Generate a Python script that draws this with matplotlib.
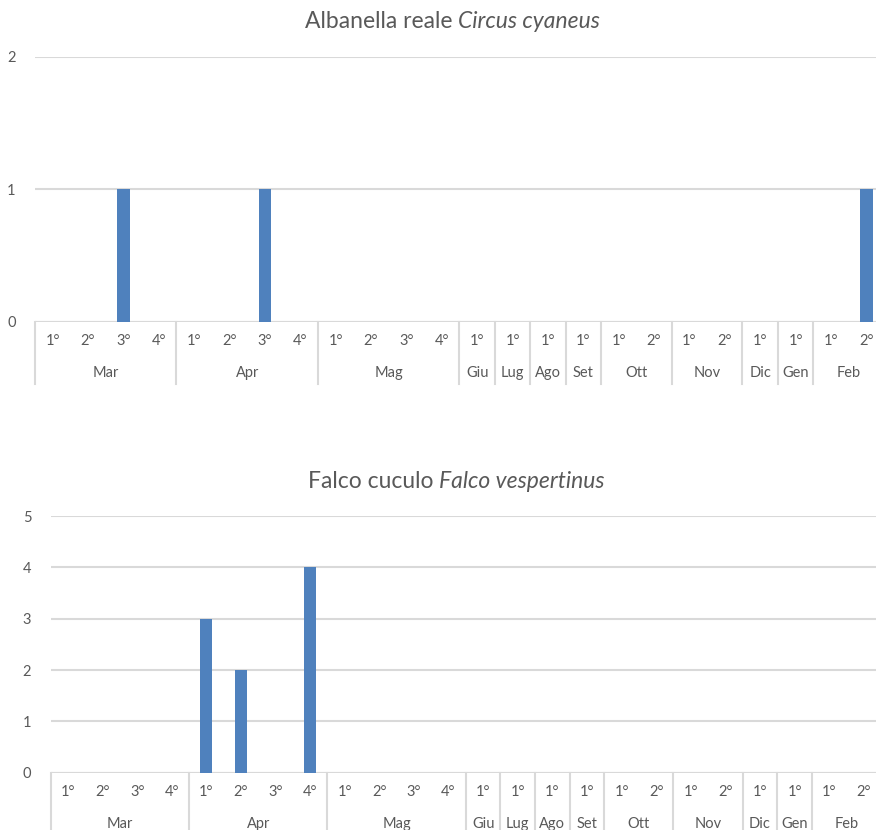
import numpy as np
import matplotlib.pyplot as plt
from matplotlib import transforms

plt.rcParams['font.family'] = ['Lato', 'DejaVu Sans']

# categorie: decadi per mese
mesi = ['Mar', 'Apr', 'Mag', 'Giu', 'Lug', 'Ago', 'Set', 'Ott', 'Nov', 'Dic', 'Gen', 'Feb']
n_decadi = [4, 4, 4, 1, 1, 1, 1, 2, 2, 1, 1, 2]
decadi = ['%d°' % (i + 1) for n in n_decadi for i in range(n)]

circus_cyaneus = [0, 0, 1, 0, 0, 0, 1, 0, 0, 0, 0, 0,
                  0, 0, 0, 0, 0, 0, 0, 0, 0, 0, 0, 1]
falco_vespertinus = [0, 0, 0, 0, 3, 2, 0, 4, 0, 0, 0, 0,
                     0, 0, 0, 0, 0, 0, 0, 0, 0, 0, 0, 0]

W, H = 876, 830
blu = '#4f81bd'
grigio = '#d9d9d9'
testo = '#595959'

fig = plt.figure(figsize=(W / 100, H / 100), dpi=100)


def pannello(left, right, top, bottom, valori, ymax, titolo_n, titolo_i, split, ytit):
    ax = fig.add_axes([left / W, 1 - bottom / H, (right - left) / W, (bottom - top) / H])
    x = np.arange(len(valori))
    ax.bar(x, valori, width=0.35, color=blu, zorder=3)
    ax.set_xlim(-0.5, len(valori) - 0.5)
    ax.set_ylim(0, ymax)
    ax.set_yticks(range(ymax + 1))
    ax.yaxis.grid(True, color=grigio, lw=1.5, zorder=0)
    ax.set_xticks([])
    for s in ax.spines.values():
        s.set_visible(False)
    ax.tick_params(axis='y', length=0, pad=14, labelsize=10.5, labelcolor=testo)
    ax.axhline(0, color=grigio, lw=1.5, zorder=2)

    hpx = bottom - top
    tr = transforms.blended_transform_factory(ax.transData, ax.transAxes)
    for xi, lab in zip(x, decadi):
        ax.text(xi, -19 / hpx, lab, transform=tr, ha='center', va='center',
                fontsize=10.5, color=testo)
    pos = 0
    bordi = [-0.5]
    for m, n in zip(mesi, n_decadi):
        ax.text(pos + (n - 1) / 2, -51 / hpx, m, transform=tr, ha='center',
                va='center', fontsize=10.5, color=testo)
        pos += n
        bordi.append(pos - 0.5)
    for b in bordi:
        ax.plot([b, b], [0, -62 / hpx], transform=tr, color=grigio, lw=1.5,
                clip_on=False)

    fig.text((split - 5) / W, 1 - ytit / H, titolo_n, ha='right', va='center',
             fontsize=16.5, color=testo)
    fig.text(split / W, 1 - ytit / H, titolo_i, ha='left', va='center',
             fontsize=16.5, color=testo, style='italic')
    return ax


pannello(35, 884, 57, 321.7, circus_cyaneus, 2,
         'Albanella reale', 'Circus cyaneus', 458, 21)
pannello(50.7, 881, 516, 772.7, falco_vespertinus, 5,
         'Falco cuculo', 'Falco vespertinus', 439, 481)

fig.savefig('out.png', dpi=100)
